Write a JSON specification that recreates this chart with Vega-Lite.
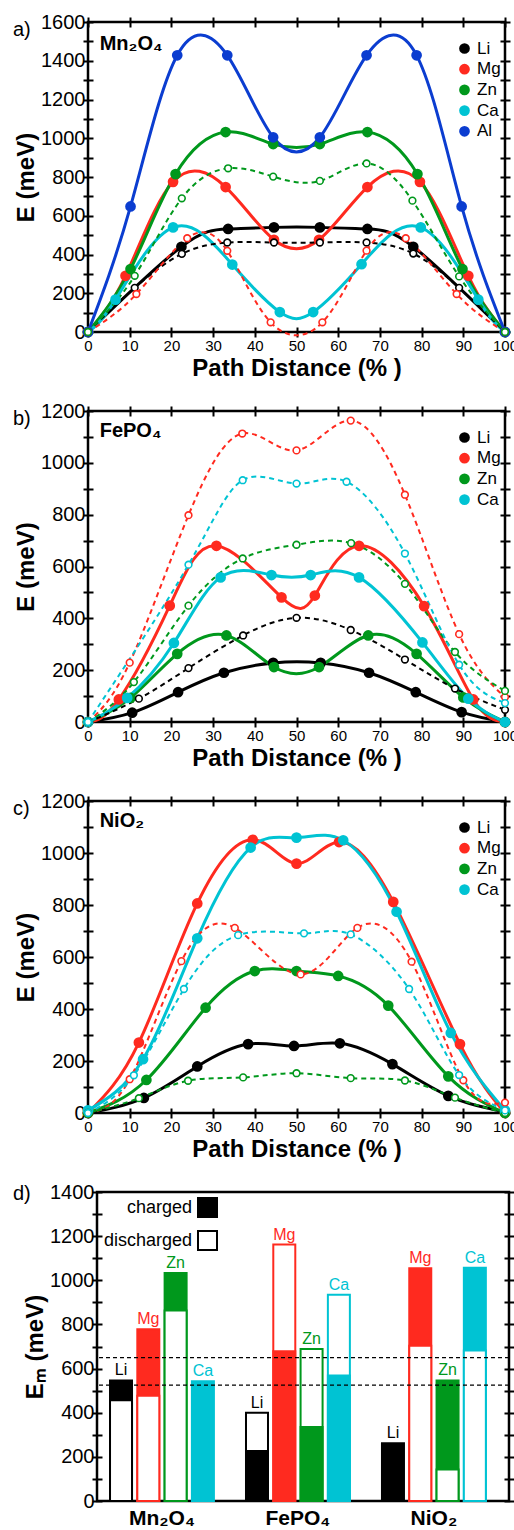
{
  "$schema": "https://vega.github.io/schema/vega-lite/v6.json",
  "padding": {"left": 11, "top": 10, "right": 0, "bottom": 0},
  "config": {
    "font": "Liberation Sans",
    "view": {"stroke": "black", "strokeWidth": 2.5},
    "axis": {"grid": false, "domain": false, "tickColor": "black", "tickWidth": 2, "tickSize": 10, "offset": -5,
      "labelColor": "black", "titleColor": "black", "labelFont": "Liberation Sans", "titleFont": "Liberation Sans",
      "titleFontWeight": "bold", "titleFontSize": 24},
    "title": {"anchor": "start", "frame": "group", "fontSize": 20, "fontWeight": "normal", "baseline": "alphabetic", "offset": 0, "dx": -75, "dy": 32, "color": "black"},
    "legend": {"title": null, "labelFontSize": 17, "labelFont": "Liberation Sans", "labelColor": "black", "padding": 0, "rowPadding": 2.7, "labelOffset": 4, "symbolStrokeWidth": 0}
  },
  "datasets": {
    "a": [
      {"ion":"Li","state":"charged","x":0,"E":0},{"ion":"Li","state":"charged","x":22.4,"E":440},{"ion":"Li","state":"charged","x":33.6,"E":532},{"ion":"Li","state":"charged","x":44.6,"E":540},{"ion":"Li","state":"charged","x":55.6,"E":540},{"ion":"Li","state":"charged","x":67,"E":532},{"ion":"Li","state":"charged","x":78,"E":440},{"ion":"Li","state":"charged","x":100,"E":0},
      {"ion":"Li","state":"discharged","x":0,"E":0},{"ion":"Li","state":"discharged","x":11.2,"E":228},{"ion":"Li","state":"discharged","x":22.5,"E":403},{"ion":"Li","state":"discharged","x":33.4,"E":462},{"ion":"Li","state":"discharged","x":44.6,"E":462},{"ion":"Li","state":"discharged","x":55.6,"E":462},{"ion":"Li","state":"discharged","x":66.8,"E":462},{"ion":"Li","state":"discharged","x":78,"E":405},{"ion":"Li","state":"discharged","x":89,"E":228},{"ion":"Li","state":"discharged","x":100,"E":0},
      {"ion":"Mg","state":"charged","x":0,"E":0},{"ion":"Mg","state":"charged","x":9,"E":290},{"ion":"Mg","state":"charged","x":20.4,"E":775},{"ion":"Mg","state":"charged","x":33,"E":748},{"ion":"Mg","state":"charged","x":44.6,"E":476},{"ion":"Mg","state":"charged","x":55.4,"E":476},{"ion":"Mg","state":"charged","x":67,"E":748},{"ion":"Mg","state":"charged","x":79.6,"E":775},{"ion":"Mg","state":"charged","x":91.2,"E":290},{"ion":"Mg","state":"charged","x":100,"E":0},
      {"ion":"Mg","state":"discharged","x":0,"E":0},{"ion":"Mg","state":"discharged","x":11.6,"E":196},{"ion":"Mg","state":"discharged","x":23.8,"E":484},{"ion":"Mg","state":"discharged","x":33.4,"E":419},{"ion":"Mg","state":"discharged","x":43.8,"E":50},{"ion":"Mg","state":"discharged","x":56.2,"E":50},{"ion":"Mg","state":"discharged","x":66.8,"E":420},{"ion":"Mg","state":"discharged","x":76.2,"E":484},{"ion":"Mg","state":"discharged","x":88.4,"E":196},{"ion":"Mg","state":"discharged","x":100,"E":0},
      {"ion":"Zn","state":"charged","x":0,"E":0},{"ion":"Zn","state":"charged","x":10.2,"E":325},{"ion":"Zn","state":"charged","x":21,"E":815},{"ion":"Zn","state":"charged","x":33,"E":1032},{"ion":"Zn","state":"charged","x":44.4,"E":970},{"ion":"Zn","state":"charged","x":55.6,"E":970},{"ion":"Zn","state":"charged","x":67,"E":1032},{"ion":"Zn","state":"charged","x":79,"E":815},{"ion":"Zn","state":"charged","x":89.8,"E":325},{"ion":"Zn","state":"charged","x":100,"E":0},
      {"ion":"Zn","state":"discharged","x":0,"E":0},{"ion":"Zn","state":"discharged","x":11.2,"E":290},{"ion":"Zn","state":"discharged","x":22.5,"E":690},{"ion":"Zn","state":"discharged","x":33.6,"E":845},{"ion":"Zn","state":"discharged","x":44.4,"E":802},{"ion":"Zn","state":"discharged","x":55.6,"E":780},{"ion":"Zn","state":"discharged","x":66.8,"E":870},{"ion":"Zn","state":"discharged","x":77.8,"E":678},{"ion":"Zn","state":"discharged","x":89,"E":287},{"ion":"Zn","state":"discharged","x":100,"E":0},
      {"ion":"Ca","state":"charged","x":0,"E":0},{"ion":"Ca","state":"charged","x":6.6,"E":167},{"ion":"Ca","state":"charged","x":20.4,"E":540},{"ion":"Ca","state":"charged","x":34.6,"E":348},{"ion":"Ca","state":"charged","x":46,"E":103},{"ion":"Ca","state":"charged","x":54,"E":103},{"ion":"Ca","state":"charged","x":65.6,"E":350},{"ion":"Ca","state":"charged","x":79.8,"E":540},{"ion":"Ca","state":"charged","x":93.6,"E":167},{"ion":"Ca","state":"charged","x":100,"E":0},
      {"ion":"Al","state":"charged","x":0,"E":0},{"ion":"Al","state":"charged","x":10.2,"E":648},{"ion":"Al","state":"charged","x":21.4,"E":1428},{"ion":"Al","state":"charged","x":33.4,"E":1428},{"ion":"Al","state":"charged","x":44.4,"E":1005},{"ion":"Al","state":"charged","x":55.6,"E":1005},{"ion":"Al","state":"charged","x":66.8,"E":1428},{"ion":"Al","state":"charged","x":78.8,"E":1428},{"ion":"Al","state":"charged","x":89.6,"E":648},{"ion":"Al","state":"charged","x":100,"E":0}
    ],
    "b": [
      {"ion":"Li","state":"charged","x":0,"E":0},{"ion":"Li","state":"charged","x":10.6,"E":36},{"ion":"Li","state":"charged","x":21.6,"E":115},{"ion":"Li","state":"charged","x":32.6,"E":190},{"ion":"Li","state":"charged","x":44.4,"E":228},{"ion":"Li","state":"charged","x":55.8,"E":228},{"ion":"Li","state":"charged","x":67.4,"E":190},{"ion":"Li","state":"charged","x":78.6,"E":115},{"ion":"Li","state":"charged","x":89.6,"E":38},{"ion":"Li","state":"charged","x":100,"E":0},
      {"ion":"Li","state":"discharged","x":0,"E":0},{"ion":"Li","state":"discharged","x":12.2,"E":90},{"ion":"Li","state":"discharged","x":24.1,"E":208},{"ion":"Li","state":"discharged","x":37.2,"E":334},{"ion":"Li","state":"discharged","x":50,"E":402},{"ion":"Li","state":"discharged","x":63,"E":355},{"ion":"Li","state":"discharged","x":76,"E":241},{"ion":"Li","state":"discharged","x":88,"E":129},{"ion":"Li","state":"discharged","x":100,"E":47},
      {"ion":"Mg","state":"charged","x":0,"E":0},{"ion":"Mg","state":"charged","x":7.4,"E":87},{"ion":"Mg","state":"charged","x":19.6,"E":449},{"ion":"Mg","state":"charged","x":30.8,"E":680},{"ion":"Mg","state":"charged","x":46.4,"E":481},{"ion":"Mg","state":"charged","x":54.4,"E":488},{"ion":"Mg","state":"charged","x":65,"E":680},{"ion":"Mg","state":"charged","x":80.6,"E":447},{"ion":"Mg","state":"charged","x":92.4,"E":87},{"ion":"Mg","state":"charged","x":100,"E":0},
      {"ion":"Mg","state":"discharged","x":0,"E":0},{"ion":"Mg","state":"discharged","x":10,"E":229},{"ion":"Mg","state":"discharged","x":24.1,"E":798},{"ion":"Mg","state":"discharged","x":37,"E":1113},{"ion":"Mg","state":"discharged","x":50,"E":1048},{"ion":"Mg","state":"discharged","x":63,"E":1163},{"ion":"Mg","state":"discharged","x":76,"E":877},{"ion":"Mg","state":"discharged","x":89,"E":339},{"ion":"Mg","state":"discharged","x":100,"E":96},
      {"ion":"Zn","state":"charged","x":0,"E":0},{"ion":"Zn","state":"charged","x":10.2,"E":93},{"ion":"Zn","state":"charged","x":21.4,"E":263},{"ion":"Zn","state":"charged","x":33.2,"E":334},{"ion":"Zn","state":"charged","x":44.6,"E":212},{"ion":"Zn","state":"charged","x":55.4,"E":212},{"ion":"Zn","state":"charged","x":67.2,"E":334},{"ion":"Zn","state":"charged","x":78.8,"E":263},{"ion":"Zn","state":"charged","x":90,"E":95},{"ion":"Zn","state":"charged","x":100,"E":0},
      {"ion":"Zn","state":"discharged","x":0,"E":0},{"ion":"Zn","state":"discharged","x":11,"E":154},{"ion":"Zn","state":"discharged","x":24.1,"E":449},{"ion":"Zn","state":"discharged","x":37.1,"E":631},{"ion":"Zn","state":"discharged","x":50,"E":684},{"ion":"Zn","state":"discharged","x":63.1,"E":690},{"ion":"Zn","state":"discharged","x":76,"E":533},{"ion":"Zn","state":"discharged","x":88,"E":270},{"ion":"Zn","state":"discharged","x":100,"E":120},
      {"ion":"Ca","state":"charged","x":0,"E":0},{"ion":"Ca","state":"charged","x":9.4,"E":93},{"ion":"Ca","state":"charged","x":20.6,"E":305},{"ion":"Ca","state":"charged","x":31.8,"E":558},{"ion":"Ca","state":"charged","x":44,"E":567},{"ion":"Ca","state":"charged","x":53.4,"E":567},{"ion":"Ca","state":"charged","x":65,"E":558},{"ion":"Ca","state":"charged","x":80.2,"E":307},{"ion":"Ca","state":"charged","x":91.2,"E":90},{"ion":"Ca","state":"charged","x":100,"E":0},
      {"ion":"Ca","state":"discharged","x":0,"E":0},{"ion":"Ca","state":"discharged","x":24.1,"E":607},{"ion":"Ca","state":"discharged","x":37.1,"E":933},{"ion":"Ca","state":"discharged","x":50,"E":920},{"ion":"Ca","state":"discharged","x":62,"E":927},{"ion":"Ca","state":"discharged","x":76,"E":650},{"ion":"Ca","state":"discharged","x":89,"E":221},{"ion":"Ca","state":"discharged","x":100,"E":73}
    ],
    "c": [
      {"ion":"Li","state":"charged","x":0,"E":0},{"ion":"Li","state":"charged","x":13.4,"E":58},{"ion":"Li","state":"charged","x":26.2,"E":179},{"ion":"Li","state":"charged","x":38.4,"E":265},{"ion":"Li","state":"charged","x":49.4,"E":258},{"ion":"Li","state":"charged","x":60.4,"E":268},{"ion":"Li","state":"charged","x":73,"E":188},{"ion":"Li","state":"charged","x":86.4,"E":66},{"ion":"Li","state":"charged","x":100,"E":5},
      {"ion":"Mg","state":"charged","x":0,"E":0},{"ion":"Mg","state":"charged","x":12.2,"E":271},{"ion":"Mg","state":"charged","x":26.2,"E":806},{"ion":"Mg","state":"charged","x":39.5,"E":1051},{"ion":"Mg","state":"charged","x":50,"E":959},{"ion":"Mg","state":"charged","x":60.2,"E":1042},{"ion":"Mg","state":"charged","x":73.2,"E":812},{"ion":"Mg","state":"charged","x":89.2,"E":265},{"ion":"Mg","state":"charged","x":100,"E":0},
      {"ion":"Mg","state":"discharged","x":0,"E":0},{"ion":"Mg","state":"discharged","x":10,"E":130},{"ion":"Mg","state":"discharged","x":22.4,"E":584},{"ion":"Mg","state":"discharged","x":35.2,"E":712},{"ion":"Mg","state":"discharged","x":51,"E":533},{"ion":"Mg","state":"discharged","x":64.6,"E":712},{"ion":"Mg","state":"discharged","x":77.6,"E":582},{"ion":"Mg","state":"discharged","x":90,"E":126},{"ion":"Mg","state":"discharged","x":100,"E":40},
      {"ion":"Zn","state":"charged","x":0,"E":0},{"ion":"Zn","state":"charged","x":14,"E":127},{"ion":"Zn","state":"charged","x":28.2,"E":405},{"ion":"Zn","state":"charged","x":40,"E":546},{"ion":"Zn","state":"charged","x":50,"E":546},{"ion":"Zn","state":"charged","x":60,"E":527},{"ion":"Zn","state":"charged","x":72,"E":413},{"ion":"Zn","state":"charged","x":86.4,"E":141},{"ion":"Zn","state":"charged","x":100,"E":0},
      {"ion":"Zn","state":"discharged","x":0,"E":0},{"ion":"Zn","state":"discharged","x":12.2,"E":57},{"ion":"Zn","state":"discharged","x":24,"E":124},{"ion":"Zn","state":"discharged","x":37.2,"E":137},{"ion":"Zn","state":"discharged","x":50,"E":153},{"ion":"Zn","state":"discharged","x":63,"E":134},{"ion":"Zn","state":"discharged","x":76,"E":125},{"ion":"Zn","state":"discharged","x":88,"E":59},{"ion":"Zn","state":"discharged","x":100,"E":0},
      {"ion":"Ca","state":"charged","x":0,"E":10},{"ion":"Ca","state":"charged","x":13.2,"E":207},{"ion":"Ca","state":"charged","x":26.2,"E":672},{"ion":"Ca","state":"charged","x":39,"E":1021},{"ion":"Ca","state":"charged","x":50,"E":1059},{"ion":"Ca","state":"charged","x":61.2,"E":1049},{"ion":"Ca","state":"charged","x":74,"E":774},{"ion":"Ca","state":"charged","x":87,"E":308},{"ion":"Ca","state":"charged","x":100,"E":10},
      {"ion":"Ca","state":"discharged","x":0,"E":0},{"ion":"Ca","state":"discharged","x":11,"E":145},{"ion":"Ca","state":"discharged","x":23,"E":477},{"ion":"Ca","state":"discharged","x":36,"E":684},{"ion":"Ca","state":"discharged","x":51.8,"E":691},{"ion":"Ca","state":"discharged","x":63,"E":687},{"ion":"Ca","state":"discharged","x":77,"E":477},{"ion":"Ca","state":"discharged","x":89,"E":146},{"ion":"Ca","state":"discharged","x":100,"E":10}
    ],
    "d": [
      {"host":"Mn₂O₄","ion":"Li","state":"charged","E":546},{"host":"Mn₂O₄","ion":"Li","state":"discharged","E":456},
      {"host":"Mn₂O₄","ion":"Mg","state":"charged","E":778},{"host":"Mn₂O₄","ion":"Mg","state":"discharged","E":477},
      {"host":"Mn₂O₄","ion":"Zn","state":"charged","E":1033},{"host":"Mn₂O₄","ion":"Zn","state":"discharged","E":863},
      {"host":"Mn₂O₄","ion":"Ca","state":"charged","E":543},
      {"host":"FePO₄","ion":"Li","state":"charged","E":227},{"host":"FePO₄","ion":"Li","state":"discharged","E":400},
      {"host":"FePO₄","ion":"Mg","state":"charged","E":679},{"host":"FePO₄","ion":"Mg","state":"discharged","E":1162},
      {"host":"FePO₄","ion":"Zn","state":"charged","E":335},{"host":"FePO₄","ion":"Zn","state":"discharged","E":689},
      {"host":"FePO₄","ion":"Ca","state":"charged","E":569},{"host":"FePO₄","ion":"Ca","state":"discharged","E":934},
      {"host":"NiO₂","ion":"Li","state":"charged","E":262},
      {"host":"NiO₂","ion":"Mg","state":"charged","E":1054},{"host":"NiO₂","ion":"Mg","state":"discharged","E":703},
      {"host":"NiO₂","ion":"Zn","state":"charged","E":546},{"host":"NiO₂","ion":"Zn","state":"discharged","E":143},
      {"host":"NiO₂","ion":"Ca","state":"charged","E":1057},{"host":"NiO₂","ion":"Ca","state":"discharged","E":682}
    ]
  },
  "resolve": {
    "scale": {"x": "independent", "y": "independent", "fill": "independent", "stroke": "independent"},
    "axis": {"x": "independent", "y": "independent"},
    "legend": {"fill": "independent", "stroke": "independent"}
  },
  "spacing": 79,
  "bounds": "flush",
  "vconcat": [
    {
      "width": 417, "height": 310,
      "title": {"text": "a)"},
      "data": {"name": "a"},
      "resolve": {"axis": {"x": "independent", "y": "independent"}},
      "layer": [
        {
          "transform": [{"filter": "datum.state === 'charged'"}],
          "mark": {"type": "line", "interpolate": "natural", "strokeWidth": 3},
          "encoding": {
            "x": {"field": "x", "type": "quantitative", "scale": {"domain": [0, 100], "nice": false},
              "axis": {"title": "Path Distance (% )", "values": [0,10,20,30,40,50,60,70,80,90,100], "format": "d", "labelFontSize": 15, "labelPadding": 1, "titlePadding": 3, "labelFlush": false, "labelOverlap": false}},
            "y": {"field": "E", "type": "quantitative", "scale": {"domain": [0, 1600], "nice": false},
              "axis": {"title": "E (meV)", "values": [0,100,200,300,400,500,600,700,800,900,1000,1100,1200,1300,1400,1500,1600], "format": "d", "labelExpr": "datum.value % 200 === 0 ? datum.label : ''", "labelFontSize": 20, "labelPadding": -2, "titlePadding": 2, "labelFlush": false, "labelOverlap": false}},
            "stroke": {"field": "ion", "type": "nominal", "scale": {"domain": ["Al","Ca","Zn","Mg","Li"], "range": ["#0b3dd0","#00c3d3","#00981c","#ff2a1f","#000000"]}, "legend": null}
          }
        },
        {
          "transform": [{"filter": "datum.state === 'discharged'"}],
          "mark": {"type": "line", "interpolate": "natural", "strokeWidth": 2, "strokeDash": [5, 4]},
          "encoding": {
            "x": {"field": "x", "type": "quantitative", "axis": null},
            "y": {"field": "E", "type": "quantitative", "axis": null},
            "stroke": {"field": "ion", "type": "nominal", "scale": {"domain": ["Al","Ca","Zn","Mg","Li"], "range": ["#0b3dd0","#00c3d3","#00981c","#ff2a1f","#000000"]}, "legend": null}
          }
        },
        {
          "transform": [{"filter": "datum.state === 'charged'"}],
          "mark": {"type": "point", "filled": true, "size": 115, "opacity": 1},
          "encoding": {
            "x": {"field": "x", "type": "quantitative", "axis": null},
            "y": {"field": "E", "type": "quantitative", "axis": null},
            "fill": {"field": "ion", "type": "nominal", "scale": {"domain": ["Li","Mg","Zn","Ca","Al"], "range": ["#000000","#ff2a1f","#00981c","#00c3d3","#0b3dd0"]},
              "legend": {"orient": "none", "legendX": 368, "legendY": 18, "symbolType": "circle", "symbolSize": 115}}
          }
        },
        {
          "transform": [{"filter": "datum.state === 'discharged'"}],
          "mark": {"type": "point", "filled": true, "fill": "white", "size": 45, "strokeWidth": 1.6, "opacity": 1},
          "encoding": {
            "x": {"field": "x", "type": "quantitative", "axis": {"orient": "top", "labels": false, "title": null, "values": [0,10,20,30,40,50,60,70,80,90,100]}},
            "y": {"field": "E", "type": "quantitative", "axis": {"orient": "right", "labels": false, "title": null, "values": [0,100,200,300,400,500,600,700,800,900,1000,1100,1200,1300,1400,1500,1600]}},
            "stroke": {"field": "ion", "type": "nominal", "scale": {"domain": ["Al","Ca","Zn","Mg","Li"], "range": ["#0b3dd0","#00c3d3","#00981c","#ff2a1f","#000000"]}, "legend": null}
          }
        },
        {
          "data": {"values": [{"host": "Mn₂O₄"}]},
          "mark": {"type": "text", "fontSize": 20, "fontWeight": "bold", "align": "left", "baseline": "alphabetic", "color": "black"},
          "encoding": {
            "text": {"field": "host"},
            "x": {"datum": 2.8, "type": "quantitative", "axis": null},
            "y": {"datum": 1455, "type": "quantitative", "axis": null}
          }
        }
      ]
    },
    {
      "width": 417, "height": 311,
      "title": {"text": "b)"},
      "data": {"name": "b"},
      "resolve": {"axis": {"x": "independent", "y": "independent"}},
      "layer": [
        {
          "transform": [{"filter": "datum.state === 'charged'"}],
          "mark": {"type": "line", "interpolate": "natural", "strokeWidth": 3},
          "encoding": {
            "x": {"field": "x", "type": "quantitative", "scale": {"domain": [0, 100], "nice": false},
              "axis": {"title": "Path Distance (% )", "values": [0,10,20,30,40,50,60,70,80,90,100], "format": "d", "labelFontSize": 15, "labelPadding": 1, "titlePadding": 3, "labelFlush": false, "labelOverlap": false}},
            "y": {"field": "E", "type": "quantitative", "scale": {"domain": [0, 1200], "nice": false},
              "axis": {"title": "E (meV)", "values": [0,100,200,300,400,500,600,700,800,900,1000,1100,1200], "format": "d", "labelExpr": "datum.value % 200 === 0 ? datum.label : ''", "labelFontSize": 20, "labelPadding": -2, "titlePadding": 2, "labelFlush": false, "labelOverlap": false}},
            "stroke": {"field": "ion", "type": "nominal", "scale": {"domain": ["Ca","Zn","Mg","Li"], "range": ["#00c3d3","#00981c","#ff2a1f","#000000"]}, "legend": null}
          }
        },
        {
          "transform": [{"filter": "datum.state === 'discharged'"}],
          "mark": {"type": "line", "interpolate": "natural", "strokeWidth": 2, "strokeDash": [5, 4]},
          "encoding": {
            "x": {"field": "x", "type": "quantitative", "axis": null},
            "y": {"field": "E", "type": "quantitative", "axis": null},
            "stroke": {"field": "ion", "type": "nominal", "scale": {"domain": ["Ca","Zn","Mg","Li"], "range": ["#00c3d3","#00981c","#ff2a1f","#000000"]}, "legend": null}
          }
        },
        {
          "transform": [{"filter": "datum.state === 'charged'"}],
          "mark": {"type": "point", "filled": true, "size": 115, "opacity": 1},
          "encoding": {
            "x": {"field": "x", "type": "quantitative", "axis": null},
            "y": {"field": "E", "type": "quantitative", "axis": null},
            "fill": {"field": "ion", "type": "nominal", "scale": {"domain": ["Li","Mg","Zn","Ca"], "range": ["#000000","#ff2a1f","#00981c","#00c3d3"]},
              "legend": {"orient": "none", "legendX": 368, "legendY": 18, "symbolType": "circle", "symbolSize": 115}}
          }
        },
        {
          "transform": [{"filter": "datum.state === 'discharged'"}],
          "mark": {"type": "point", "filled": true, "fill": "white", "size": 45, "strokeWidth": 1.6, "opacity": 1},
          "encoding": {
            "x": {"field": "x", "type": "quantitative", "axis": {"orient": "top", "labels": false, "title": null, "values": [0,10,20,30,40,50,60,70,80,90,100]}},
            "y": {"field": "E", "type": "quantitative", "axis": {"orient": "right", "labels": false, "title": null, "values": [0,100,200,300,400,500,600,700,800,900,1000,1100,1200]}},
            "stroke": {"field": "ion", "type": "nominal", "scale": {"domain": ["Ca","Zn","Mg","Li"], "range": ["#00c3d3","#00981c","#ff2a1f","#000000"]}, "legend": null}
          }
        },
        {
          "data": {"values": [{"host": "FePO₄"}]},
          "mark": {"type": "text", "fontSize": 20, "fontWeight": "bold", "align": "left", "baseline": "alphabetic", "color": "black"},
          "encoding": {
            "text": {"field": "host"},
            "x": {"datum": 2.8, "type": "quantitative", "axis": null},
            "y": {"datum": 1100, "type": "quantitative", "axis": null}
          }
        }
      ]
    },
    {
      "width": 417, "height": 312,
      "title": {"text": "c)"},
      "data": {"name": "c"},
      "resolve": {"axis": {"x": "independent", "y": "independent"}},
      "layer": [
        {
          "transform": [{"filter": "datum.state === 'charged'"}],
          "mark": {"type": "line", "interpolate": "natural", "strokeWidth": 3},
          "encoding": {
            "x": {"field": "x", "type": "quantitative", "scale": {"domain": [0, 100], "nice": false},
              "axis": {"title": "Path Distance (% )", "values": [0,10,20,30,40,50,60,70,80,90,100], "format": "d", "labelFontSize": 15, "labelPadding": 1, "titlePadding": 3, "labelFlush": false, "labelOverlap": false}},
            "y": {"field": "E", "type": "quantitative", "scale": {"domain": [0, 1200], "nice": false},
              "axis": {"title": "E (meV)", "values": [0,100,200,300,400,500,600,700,800,900,1000,1100,1200], "format": "d", "labelExpr": "datum.value % 200 === 0 ? datum.label : ''", "labelFontSize": 20, "labelPadding": -2, "titlePadding": 2, "labelFlush": false, "labelOverlap": false}},
            "stroke": {"field": "ion", "type": "nominal", "scale": {"domain": ["Ca","Zn","Mg","Li"], "range": ["#00c3d3","#00981c","#ff2a1f","#000000"]}, "legend": null}
          }
        },
        {
          "transform": [{"filter": "datum.state === 'discharged'"}],
          "mark": {"type": "line", "interpolate": "natural", "strokeWidth": 2, "strokeDash": [5, 4]},
          "encoding": {
            "x": {"field": "x", "type": "quantitative", "axis": null},
            "y": {"field": "E", "type": "quantitative", "axis": null},
            "stroke": {"field": "ion", "type": "nominal", "scale": {"domain": ["Ca","Zn","Mg","Li"], "range": ["#00c3d3","#00981c","#ff2a1f","#000000"]}, "legend": null}
          }
        },
        {
          "transform": [{"filter": "datum.state === 'charged'"}],
          "mark": {"type": "point", "filled": true, "size": 115, "opacity": 1},
          "encoding": {
            "x": {"field": "x", "type": "quantitative", "axis": null},
            "y": {"field": "E", "type": "quantitative", "axis": null},
            "fill": {"field": "ion", "type": "nominal", "scale": {"domain": ["Li","Mg","Zn","Ca"], "range": ["#000000","#ff2a1f","#00981c","#00c3d3"]},
              "legend": {"orient": "none", "legendX": 368, "legendY": 18, "symbolType": "circle", "symbolSize": 115}}
          }
        },
        {
          "transform": [{"filter": "datum.state === 'discharged'"}],
          "mark": {"type": "point", "filled": true, "fill": "white", "size": 45, "strokeWidth": 1.6, "opacity": 1},
          "encoding": {
            "x": {"field": "x", "type": "quantitative", "axis": {"orient": "top", "labels": false, "title": null, "values": [0,10,20,30,40,50,60,70,80,90,100]}},
            "y": {"field": "E", "type": "quantitative", "axis": {"orient": "right", "labels": false, "title": null, "values": [0,100,200,300,400,500,600,700,800,900,1000,1100,1200]}},
            "stroke": {"field": "ion", "type": "nominal", "scale": {"domain": ["Ca","Zn","Mg","Li"], "range": ["#00c3d3","#00981c","#ff2a1f","#000000"]}, "legend": null}
          }
        },
        {
          "data": {"values": [{"host": "NiO₂"}]},
          "mark": {"type": "text", "fontSize": 20, "fontWeight": "bold", "align": "left", "baseline": "alphabetic", "color": "black"},
          "encoding": {
            "text": {"field": "host"},
            "x": {"datum": 2.8, "type": "quantitative", "axis": null},
            "y": {"datum": 1100, "type": "quantitative", "axis": null}
          }
        }
      ]
    },
    {
      "spacing": 8,
      "bounds": "flush",
      "hconcat": [
        {
          "width": 1, "height": 10,
          "view": {"stroke": null},
          "data": {"values": []},
          "mark": {"type": "point", "opacity": 0}
        },
        {
          "width": 412, "height": 309,
          "title": {"text": "d)", "dy": 26, "dx": -84},
          "data": {"name": "d"},
          "resolve": {"scale": {"fill": "independent"}, "axis": {"y": "independent"}},
          "layer": [
            {
              "mark": {"type": "bar", "strokeWidth": 2},
              "encoding": {
                "x": {"field": "host", "type": "nominal", "sort": ["Mn₂O₄","FePO₄","NiO₂"], "scale": {"paddingInner": 0.236, "paddingOuter": 0.133, "align": 0.36},
                  "axis": {"title": null, "ticks": false, "labelAngle": 0, "labelFontSize": 21, "labelFontWeight": "bold", "labelPadding": 6, "offset": 0}},
                "xOffset": {"field": "ion", "type": "nominal", "scale": {"domain": ["Li","Mg","Zn","Ca"], "paddingInner": 0.194, "paddingOuter": 0}},
                "y": {"field": "E", "type": "quantitative", "stack": null, "scale": {"domain": [0, 1400], "nice": false},
                  "axis": {"title": "Eₘ (meV)", "values": [0,100,200,300,400,500,600,700,800,900,1000,1100,1200,1300,1400], "format": "d", "labelExpr": "datum.value % 200 === 0 ? datum.label : ''", "labelFontSize": 20, "labelPadding": -2, "titlePadding": 2, "labelFlush": false, "labelOverlap": false}},
                "fill": {"field": "ion", "type": "nominal", "scale": {"domain": ["Li","Mg","Zn","Ca"], "range": ["#000000","#ff2a1f","#00981c","#00c3d3"]}, "legend": null,
                  "condition": {"test": "datum.state === 'discharged'", "value": "white"}},
                "stroke": {"field": "ion", "type": "nominal", "scale": {"domain": ["Li","Mg","Zn","Ca"], "range": ["#000000","#ff2a1f","#00981c","#00c3d3"]}, "legend": null},
                "order": {"field": "E", "type": "quantitative", "sort": "descending"}
              }
            },
            {
              "transform": [{"aggregate": [{"op": "max", "field": "E", "as": "Emax"}], "groupby": ["host", "ion"]}],
              "mark": {"type": "text", "fontSize": 16, "baseline": "bottom", "dy": -2},
              "encoding": {
                "x": {"field": "host", "type": "nominal", "sort": ["Mn₂O₄","FePO₄","NiO₂"]},
                "xOffset": {"field": "ion", "type": "nominal", "scale": {"domain": ["Li","Mg","Zn","Ca"], "paddingInner": 0.194, "paddingOuter": 0}},
                "y": {"field": "Emax", "type": "quantitative", "axis": null},
                "text": {"field": "ion"},
                "fill": {"field": "ion", "type": "nominal", "scale": {"domain": ["Li","Mg","Zn","Ca"], "range": ["#000000","#ff2a1f","#00981c","#00c3d3"]}, "legend": null}
              }
            },
            {
              "data": {"values": [{"level": 650}, {"level": 525}]},
              "mark": {"type": "rule", "strokeDash": [4, 3], "strokeWidth": 1.3, "color": "black"},
              "encoding": {
                "y": {"field": "level", "type": "quantitative", "axis": {"orient": "right", "labels": false, "title": null, "values": [0,100,200,300,400,500,600,700,800,900,1000,1100,1200,1300,1400]}}
              }
            },
            {
              "mark": {"type": "point", "shape": "square", "filled": true, "opacity": 0},
              "encoding": {
                "x": {"field": "host", "type": "nominal", "sort": ["Mn₂O₄","FePO₄","NiO₂"]},
                "xOffset": {"field": "ion", "type": "nominal", "scale": {"domain": ["Li","Mg","Zn","Ca"], "paddingInner": 0.194, "paddingOuter": 0}},
                "y": {"field": "E", "type": "quantitative", "axis": null},
                "fill": {"field": "state", "type": "nominal", "scale": {"domain": ["charged", "discharged"], "range": ["black", "white"]},
                  "legend": {"orient": "none", "legendX": 100, "legendY": 5, "symbolType": "square", "symbolSize": 361, "symbolStrokeColor": "black", "symbolStrokeWidth": 2, "symbolOpacity": 1, "labelAlign": "right", "labelOffset": -26, "labelFontSize": 18, "rowPadding": 6}}
              }
            }
          ]
        }
      ]
    }
  ]
}
